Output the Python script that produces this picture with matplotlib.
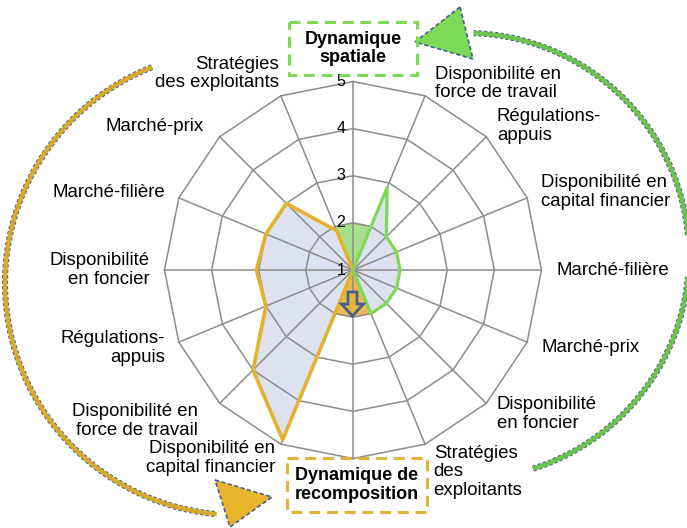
import numpy as np
import matplotlib.pyplot as plt
from matplotlib.patches import Rectangle, Polygon, FancyArrow

plt.rcParams['font.family'] = ['Liberation Sans', 'DejaVu Sans']

# 16 axes, clockwise from the top; top and bottom axes carry no label
categories = ['',
              'Disponibilité en\nforce de travail', 'Régulations-\nappuis',
              'Disponibilité en\ncapital financier', 'Marché-filière', 'Marché-prix',
              'Disponibilité\nen foncier', 'Stratégies\ndes\nexploitants',
              '',
              'Disponibilité en\ncapital financier', 'Disponibilité en\nforce de travail',
              'Régulations-\nappuis', 'Disponibilité\nen foncier', 'Marché-filière',
              'Marché-prix', 'Stratégies\ndes exploitants']
spatiale = [1, 2.9, 2.0, 2.0, 2.0, 2.0, 2.0, 2.0, 1, 1, 1, 1, 1, 1, 1, 1]
recomposition = [1, 1, 1, 1, 1, 1, 1, 1, 1, 4.9, 4.0, 3.0, 3.05, 3.0, 3.0, 1.9]
levels = [1, 2, 3, 4, 5]
zone_spatiale = [15, 0, 1]
zone_recomposition = [7, 8, 9]
zone_level = 2

n = len(categories)
theta = np.linspace(0, 2 * np.pi, n, endpoint=False)
th_closed = np.append(theta, theta[0])


def closed(v):
    return np.append(v, v[0])


fig = plt.figure(figsize=(6.87, 5.28), dpi=100)
ax = fig.add_axes([0.2394, 0.1316, 0.5488, 0.7140], projection='polar')
ax.set_theta_offset(np.pi / 2)
ax.set_theta_direction(-1)
ax.set_ylim(1, 5)
ax.grid(False)
ax.set_xticks([])
ax.set_yticks([])
ax.spines['polar'].set_visible(False)
ax.patch.set_visible(False)

grey = '#8c8c8c'
fill_col = '#dce2ef'
orange = '#e4b22e'
green = '#7ed957'

ax.fill(th_closed, closed(spatiale), color=fill_col, zorder=1)
ax.fill(th_closed, closed(recomposition), color=fill_col, zorder=1)

# highlighted zones
for idx, col in [(zone_spatiale, '#a6e08a'), (zone_recomposition, '#e9bb52')]:
    t = [0] + [theta[i] for i in idx]
    r = [1] + [zone_level] * len(idx)
    ax.fill(t, r, color=col, zorder=1.5)

# polygon grid
for lv in levels[1:]:
    ax.plot(th_closed, [lv] * (n + 1), color=grey, lw=1.1, zorder=2, clip_on=False)
for t in theta:
    ax.plot([t, t], [1, 5], color=grey, lw=1.1, zorder=2, clip_on=False)

ax.plot(th_closed, closed(recomposition), color=orange, lw=2.6, zorder=4, clip_on=False)
ax.plot(th_closed, closed(spatiale), color=green, lw=2.3, zorder=5, clip_on=False)

for lv in levels:
    ax.annotate(str(lv), xy=(0, lv), xytext=(-5.5, 0), textcoords='offset points',
                ha='right', va='center', fontsize=11.5, zorder=6)

# label nudges (points)
nudge = {1: (3, -1), 7: (2, -10), 10: (-8, -5), 14: (-4, 0), 15: (3, 6)}
for i, lab in enumerate(categories):
    if not lab:
        continue
    ha = 'left' if np.sin(theta[i]) > 0 else 'right'
    ax.annotate(lab, xy=(theta[i], 5.32), xytext=nudge.get(i, (0, 0)),
                textcoords='offset points', ha=ha, va='center',
                fontsize=13.4, linespacing=1.1, annotation_clip=False)

# decorations in pixel coordinates
deco = fig.add_axes([0, 0, 1, 1], zorder=3)
deco.set_xlim(0, 687)
deco.set_ylim(528, 0)
deco.axis('off')
deco.patch.set_visible(False)

edge = '#44608f'


def arc(cx, cy, R, t0, t1, col):
    t = np.radians(np.linspace(t0, t1, 300))
    x = cx + R * np.cos(t)
    y = cy + R * np.sin(t)
    deco.plot(x, y, color=edge, lw=4.4, ls=(0, (0.55, 0.35)), dash_capstyle='butt')
    deco.plot(x, y, color=col, lw=3.1, solid_capstyle='butt')


arc(466, 256, 223, 72.5, -88, '#6cc24a')
arc(237, 283, 232, 248.5, 95, '#d8aa2a')
deco.add_patch(Polygon([(460, 7), (415, 42), (473, 59)], closed=True,
                       fc=green, ec=edge, lw=1.2, ls=(0, (2.5, 1.5))))
deco.add_patch(Polygon([(215, 480), (272, 497), (230, 527)], closed=True,
                       fc='#e9b52c', ec=edge, lw=1.2, ls=(0, (2.5, 1.5))))

deco.add_patch(Rectangle((289, 22), 128, 53, fill=False, ec=green, lw=2.2,
                         ls=(0, (3.6, 2.2))))
deco.text(353, 48.5, 'Dynamique\nspatiale', ha='center', va='center',
          fontsize=13, fontweight='bold', linespacing=1.1)
deco.add_patch(Rectangle((287, 458), 140, 54, fill=False, ec='#e2b33a', lw=2.2,
                         ls=(0, (3.6, 2.2))))
deco.text(357, 485, 'Dynamique de\nrecomposition', ha='center', va='center',
          fontsize=13, fontweight='bold', linespacing=1.1)

deco.add_patch(FancyArrow(352.5, 292, 0, 24, width=9, head_width=22, head_length=12,
                          length_includes_head=True, fc='#e8b43a', ec=edge, lw=2))

fig.savefig('out.png', dpi=100)
